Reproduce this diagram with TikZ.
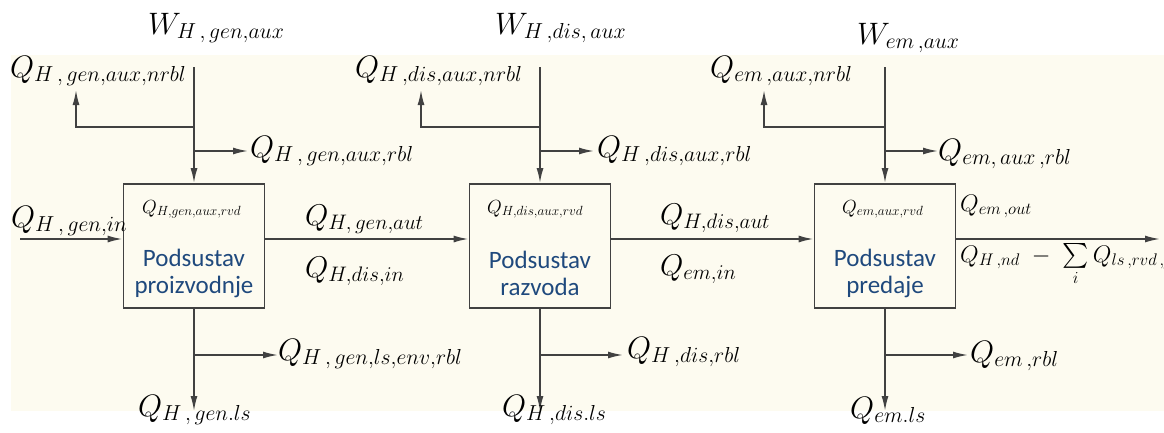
\RequirePackage{fix-cm}
\documentclass[tikz,border=0pt]{standalone}
\usepackage{exscale}
\usepackage{fontspec}
\newfontfamily\boxfont{Carlito}
\usetikzlibrary{arrows.meta,positioning}
\definecolor{paper}{RGB}{253,251,240}
\definecolor{linegray}{RGB}{65,65,65}
\definecolor{boxtext}{RGB}{31,73,125}
\tikzset{
	flow/.style={line width=1.7pt, color=linegray, -{Latex[length=15pt,width=7pt]}},
	sub/.style={draw=linegray, line width=1.8pt, fill=paper, minimum width=141pt, minimum height=124pt, inner sep=0pt},
	big/.style={anchor=base west, inner sep=0pt, font=\fontsize{31}{35}\selectfont},
	mid/.style={anchor=base west, inner sep=0pt, font=\fontsize{30}{34}\selectfont},
	small/.style={anchor=base west, inner sep=0pt, font=\fontsize{19}{22}\selectfont},
	tail/.style={anchor=base west, inner sep=0pt, font=\fontsize{24}{28}\selectfont},
	subname/.style={font=\boxfont\fontsize{25}{27}\selectfont, text=boxtext, align=center}
}

\begin{document}
\begin{tikzpicture}[x=1pt, y=-1pt]
			%%%%% START %%%%%
			
			\useasboundingbox (0, 0) rectangle (1164, 432);
			\fill[paper] (11, 55) rectangle (1164, 411);
			
			\node[sub] (gen) at (194, 246) {};
			\node[sub] (dis) at (540, 246) {};
			\node[sub] (em) at (885, 246) {};
			
			\node[subname] (genname) at (194, 273) {Podsustav\\proizvodnje};
			\node[subname] (disname) at (540, 273) {Podsustav\\razvoda};
			\node[subname] (emname) at (885, 273) {Podsustav\\predaje};
			
			\coordinate (main) at (20, 239);
			\coordinate (out) at (1160, 239);
			\draw[flow] (main) -- (main -| gen.west);
			\draw[flow] (main -| gen.east) -- (main -| dis.west);
			\draw[flow] (main -| dis.east) -- (main -| em.west);
			\draw[flow] (main -| em.east) -- (out);
			
			\coordinate (wgen) at (194, 67);
			\coordinate (ngen) at (194, 127);
			\coordinate (rgen) at (194, 151);
			\coordinate (bgen) at (194, 355);
			\coordinate (lsgen) at (194, 411);
			\draw[flow] (wgen) -- (gen.north);
			\draw[flow] (ngen) -| (76, 90);
			\draw[flow] (rgen) -- (248, 151);
			\draw[flow] (gen.south) -- (lsgen);
			\draw[flow] (bgen) -- (278, 355);
			
			\coordinate (wdis) at (540, 67);
			\coordinate (ndis) at (540, 127);
			\coordinate (rdis) at (540, 151);
			\coordinate (bdis) at (540, 355);
			\coordinate (lsdis) at (540, 411);
			\draw[flow] (wdis) -- (dis.north);
			\draw[flow] (ndis) -| (421, 90);
			\draw[flow] (rdis) -- (594, 151);
			\draw[flow] (dis.south) -- (lsdis);
			\draw[flow] (bdis) -- (623, 355);
			
			\coordinate (wem) at (885, 67);
			\coordinate (nem) at (885, 127);
			\coordinate (rem) at (885, 151);
			\coordinate (bem) at (885, 355);
			\coordinate (lsem) at (885, 411);
			\draw[flow] (wem) -- (em.north);
			\draw[flow] (nem) -| (764, 90);
			\draw[flow] (rem) -- (938, 151);
			\draw[flow] (em.south) -- (lsem);
			\draw[flow] (bem) -- (968, 355);
			
			% labels, proizvodnja
			\node[big] (wgenlbl) at (148, 34) {$W_{H\,,\,gen,aux}$};
			\node[big] (nrblgen) at (10, 77) {$Q_{H\,,\,gen,aux,nrbl}$};
			\node[big] (rblgen) at (250, 157) {$Q_{H\,,\,gen,aux,rbl}$};
			\node[big] (ingen) at (11, 227) {$Q_{H\,,\,gen,in}$};
			\node[small] (rvdgen) at (142, 213) {$Q_{H,gen,aux,rvd}$};
			\node[mid] (autgen) at (305, 225) {$Q_{H,\,gen,aut}$};
			\node[mid] (indis) at (305, 277) {$Q_{H,dis,in}$};
			\node[big] (envgen) at (278, 360) {$Q_{H\,,\,gen,ls,env,rbl}$};
			\node[big] (lsgenlbl) at (138, 416) {$Q_{H\,,\,gen.ls}$};
			
			% labels, razvod
			\node[big] (wdislbl) at (495, 34) {$W_{H\,,dis,\,aux}$};
			\node[big] (nrbldis) at (355, 77) {$Q_{H\,,dis,aux,nrbl}$};
			\node[big] (rbldis) at (597, 157) {$Q_{H\,,dis,aux,rbl}$};
			\node[small] (rvddis) at (487, 213) {$Q_{H,dis,aux,rvd}$};
			\node[mid] (autdis) at (660, 224) {$Q_{H,dis,aut}$};
			\node[mid] (inem) at (660, 275) {$Q_{em,in}$};
			\node[big] (lsrbldis) at (627, 358) {$Q_{H\,,dis,rbl}$};
			\node[big] (lsdislbl) at (502, 416) {$Q_{H\,,dis.ls}$};
			
			% labels, predaja
			\node[big] (wemlbl) at (857, 44) {$W_{em\,,aux}$};
			\node[big] (nrblem) at (710, 77) {$Q_{em\,,aux,nrbl}$};
			\node[big] (rblem) at (938, 160) {$Q_{em,\,aux\,,rbl}$};
			\node[small] (rvdem) at (842, 213) {$Q_{em,aux,rvd}$};
			\node[tail] (outem) at (960, 211) {$Q_{em\,,out}$};
			\node[tail] (sumem) at (960, 262) {$Q_{H\,,nd}\;-\;\sum\limits_i Q_{ls\,,rvd\,,p}$};
			\node[big] (lsrblem) at (970, 362) {$Q_{em\,,rbl}$};
			\node[big] (lsemlbl) at (850, 418) {$Q_{em.ls}$};
			
			%%%%% END %%%%%
\end{tikzpicture}
\end{document}
